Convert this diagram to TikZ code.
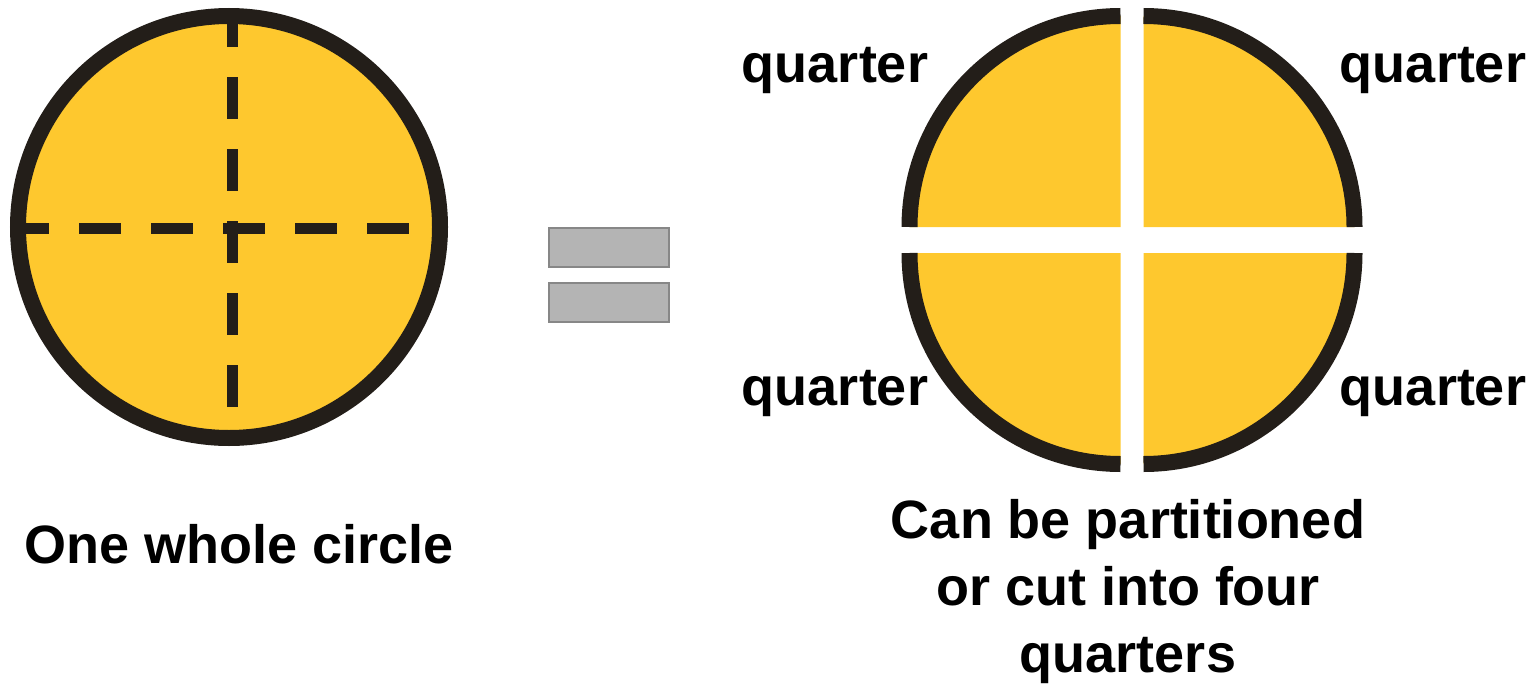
\documentclass[tikz,border=0pt]{standalone}
\usepackage{fontspec}
\setmainfont{Liberation Sans}
\usetikzlibrary{calc}

\definecolor{pie}{RGB}{254,200,46}
\definecolor{rim}{RGB}{35,30,25}
\definecolor{bar}{RGB}{180,180,180}

\begin{document}
\begin{tikzpicture}[x=1pt, y=-1pt,
    rimline/.style={draw=rim, line width=16pt},
    cutline/.style={draw=rim, line width=11pt, dash pattern=on 42pt off 30pt, dash phase=3pt},
    eqbar/.style={rectangle, fill=bar, draw=bar!75!black, line width=2pt, minimum width=120pt, minimum height=39pt, inner sep=0pt},
    lbl/.style={font=\fontsize{54}{67}\selectfont\bfseries, inner sep=0pt},
    pcs/.style={lbl, anchor=base}
  ]
  \useasboundingbox (0,0) rectangle (1533,693);

  % the whole circle with its cut lines
  \node[circle, fill=pie, rimline, minimum size=422pt, inner sep=0pt] (whole) at (229,227) {};
  \coordinate (vtop) at (232,8);
  \coordinate (vbot) at (232,408);
  \coordinate (hleft) at (10,228);
  \coordinate (hright) at (410,228);
  \draw[cutline] (vtop) -- (vbot);
  \draw[cutline] (hleft) -- (hright);

  % equals sign
  \node[eqbar] (eqtop) at (609,247) {};
  \node[eqbar] (eqbot) at (609,302.5) {};

  % four quarters, pulled apart
  \coordinate (parts) at (1132,240);
  \foreach \dx/\dy/\a in {11.5/-13/0, -11.5/-13/-90, -11.5/13/180, 11.5/13/90} {
    \fill[pie] ($(parts)+(\dx,\dy)$) -- ++(\a:211) arc[start angle=\a, delta angle=-90, radius=211] -- cycle;
    \draw[rimline] ($(parts)+(\dx,\dy)$) ++(\a:211) arc[start angle=\a, delta angle=-90, radius=211];
  }

  \node[pcs] (qtl) at (835,82) {quarter};
  \node[pcs] (qtr) at (1433,82) {quarter};
  \node[pcs] (qbl) at (835,405) {quarter};
  \node[pcs] (qbr) at (1433,405) {quarter};

  \node[pcs] (wholetxt) at (239,563) {One whole circle};
  \node[lbl, align=center] (parttxt) at (1128,592) {Can be partitioned\\or cut into four\\quarters};
\end{tikzpicture}
\end{document}
